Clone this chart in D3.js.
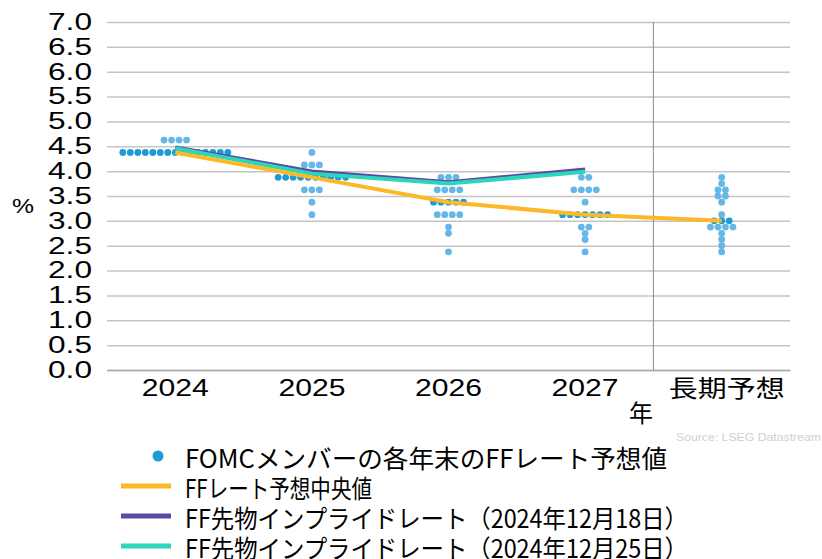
<!DOCTYPE html>
<html>
<head>
<meta charset="utf-8">
<script src="https://cdn.jsdelivr.net/npm/d3@7"></script>
<style>
  body { margin: 0; background: #fff; }
  svg { display: block; }
</style>
</head>
<body>
<div class="visHolder"></div>
<script>
// categories and tick labels
var categories = ["2024", "2025", "2026", "2027", "長期予想"]
var yTicks = [0, 0.5, 1, 1.5, 2, 2.5, 3, 3.5, 4, 4.5, 5, 5.5, 6, 6.5, 7]

// FOMC dots: [rate, number of members]
var dots2024 = [[4.625, 4], [4.375, 15]]
var dots2025 = [[4.375, 1], [4.125, 3], [3.875, 10], [3.625, 3], [3.375, 1], [3.125, 1]]
var dots2026 = [[3.875, 3], [3.625, 4], [3.375, 5], [3.125, 4], [2.875, 1], [2.75, 1], [2.375, 1]]
var dots2027 = [[3.875, 2], [3.625, 4], [3.375, 1], [3.125, 7], [2.875, 2], [2.75, 1], [2.625, 1], [2.375, 1]]
var dotsLong = [[3.875, 1], [3.75, 1], [3.625, 2], [3.5, 2], [3.375, 1], [3.125, 1], [3.0, 3], [2.875, 4], [2.75, 1], [2.625, 1], [2.5, 1], [2.375, 1]]

// lines
var medianRate = [4.375, 3.875, 3.375, 3.125, 3.0]
var futures1218 = [4.48, 4.0, 3.78, 4.04]
var futures1225 = [4.46, 3.95, 3.75, 3.99]

var legendLabels = [
    "FOMCメンバーの各年末のFFレート予想値",
    "FFレート予想中央値",
    "FF先物インプライドレート（2024年12月18日）",
    "FF先物インプライドレート（2024年12月25日）"
]

var colors = {
    dot: "#1e9bd7",
    dotLight: "#64b7e6",
    median: "#fcb827",
    f1218: "#5a4aa2",
    f1225: "#2cd6ba"
}

var W = 822, H = 559
var plotL = 107, plotR = 790, plotT = 22, plotB = 370

var svg = d3.select(".visHolder")
    .append("svg")
    .attr("width", W)
    .attr("height", H)

var x = d3.scaleBand().domain(categories).range([plotL, plotR]).padding(0)
var y = d3.scaleLinear().domain([0, 7]).range([plotB, plotT])
var cx = (c) => x(c) + x.bandwidth() / 2

// grid lines
svg.append("g")
    .attr("transform", `translate(${plotL},0)`)
    .call(d3.axisLeft(y).tickValues(yTicks).tickSize(-(plotR - plotL)).tickFormat(""))
    .call(g => g.select(".domain").remove())
    .selectAll("line")
    .attr("stroke", "#c4c4c4")
    .attr("stroke-width", 1.5)

// y axis labels
svg.append("g")
    .attr("transform", `translate(${plotL},0)`)
    .call(d3.axisLeft(y).tickValues(yTicks).tickSize(0).tickPadding(15).tickFormat(d3.format(".1f")))
    .call(g => g.select(".domain").remove())
    .selectAll("text")
    .attr("font-family", "'Liberation Sans', Arial, sans-serif")
    .attr("font-size", 23)
    .attr("fill", "#000")
    .attr("textLength", 44)
    .attr("lengthAdjust", "spacingAndGlyphs")

// x axis
var xAxis = svg.append("g")
    .attr("transform", `translate(0,${plotB})`)
    .call(d3.axisBottom(x).tickSize(0).tickSizeOuter(0).tickPadding(10))
xAxis.select(".domain").attr("stroke", "#a8a8a8").attr("stroke-width", 1.5)
xAxis.selectAll("text")
    .attr("font-family", (d) => d == "長期予想" ? "'Noto Sans CJK JP', sans-serif" : "'Liberation Sans', Arial, sans-serif")
    .attr("font-size", (d) => d == "長期予想" ? 24 : 23)
    .attr("fill", "#000")
    .attr("dx", (d) => d == "長期予想" ? 5 : 0)
    .attr("textLength", (d) => d == "長期予想" ? 116 : 67)
    .attr("lengthAdjust", "spacingAndGlyphs")

// divider before long-run
svg.append("line")
    .attr("x1", x("長期予想")).attr("x2", x("長期予想"))
    .attr("y1", plotT).attr("y2", plotB)
    .attr("stroke", "#8a8a8a")
    .attr("stroke-width", 1)

svg.append("text")
    .text("年")
    .attr("x", 641)
    .attr("y", 422)
    .attr("text-anchor", "middle")
    .attr("font-family", "'Noto Sans CJK JP', sans-serif")
    .attr("font-size", 24)

svg.append("text")
    .text("%")
    .attr("x", 23)
    .attr("y", 213)
    .attr("text-anchor", "middle")
    .attr("font-family", "'Liberation Sans', Arial, sans-serif")
    .attr("font-size", 21)
    .attr("textLength", 22)
    .attr("lengthAdjust", "spacingAndGlyphs")

// dots
var allDots = [dots2024, dots2025, dots2026, dots2027, dotsLong]
var dotData = []
allDots.forEach((rows, ci) => {
    rows.forEach((r) => {
        for (var i = 0; i < r[1]; i++) {
            dotData.push({ cat: categories[ci], rate: r[0], off: i - (r[1] - 1) / 2, med: r[0] == medianRate[ci] })
        }
    })
})

var step = 7.5
svg.selectAll(".dot")
    .data(dotData)
    .enter()
    .append("circle")
    .attr("class", "dot")
    .attr("cx", (d) => cx(d.cat) + d.off * step)
    .attr("cy", (d) => y(d.rate))
    .attr("r", 3.4)
    .style("fill", (d) => d.med ? colors.dot : colors.dotLight)

// lines
var line = d3.line()
    .x((d) => cx(d.cat))
    .y((d) => y(d.v))

var toPts = (arr) => arr.map((v, i) => ({ cat: categories[i], v: v }))

svg.append("path")
    .attr("d", line(toPts(futures1218)))
    .attr("fill", "none")
    .attr("stroke", colors.f1218)
    .attr("stroke-width", 3.5)

svg.append("path")
    .attr("d", line(toPts(futures1225)))
    .attr("fill", "none")
    .attr("stroke", colors.f1225)
    .attr("stroke-width", 4)

svg.append("path")
    .attr("d", line(toPts(medianRate)))
    .attr("fill", "none")
    .attr("stroke", colors.median)
    .attr("stroke-width", 4)

// source
svg.append("text")
    .text("Source: LSEG Datastream")
    .attr("x", 821)
    .attr("y", 441)
    .attr("text-anchor", "end")
    .attr("font-family", "'Liberation Sans', Arial, sans-serif")
    .attr("font-size", 11.5)
    .attr("fill", "#d0d0d0")
    .attr("textLength", 145)
    .attr("lengthAdjust", "spacingAndGlyphs")

// legend
var legendY = [456, 486, 516, 546]
var legendW = [482, 187, 503, 503]
var legend = svg.append("g").attr("id", "legend")

legend.append("circle")
    .attr("cx", 158).attr("cy", legendY[0])
    .attr("r", 5.5)
    .style("fill", colors.dot)

var legendLines = [colors.median, colors.f1218, colors.f1225]
legend.selectAll(".legend-line")
    .data(legendLines)
    .enter()
    .append("line")
    .attr("class", "legend-line")
    .attr("x1", 121).attr("x2", 171)
    .attr("y1", (d, i) => legendY[i + 1]).attr("y2", (d, i) => legendY[i + 1])
    .attr("stroke", (d) => d)
    .attr("stroke-width", 5)

legend.selectAll(".legend-label")
    .data(legendLabels)
    .enter()
    .append("text")
    .attr("class", "legend-label")
    .attr("x", 185)
    .attr("y", (d, i) => legendY[i] + 12)
    .attr("font-family", "'Noto Sans CJK JP', sans-serif")
    .attr("font-size", 25)
    .attr("textLength", (d, i) => legendW[i])
    .attr("lengthAdjust", "spacingAndGlyphs")
    .text((d) => d)
</script>
</body>
</html>
